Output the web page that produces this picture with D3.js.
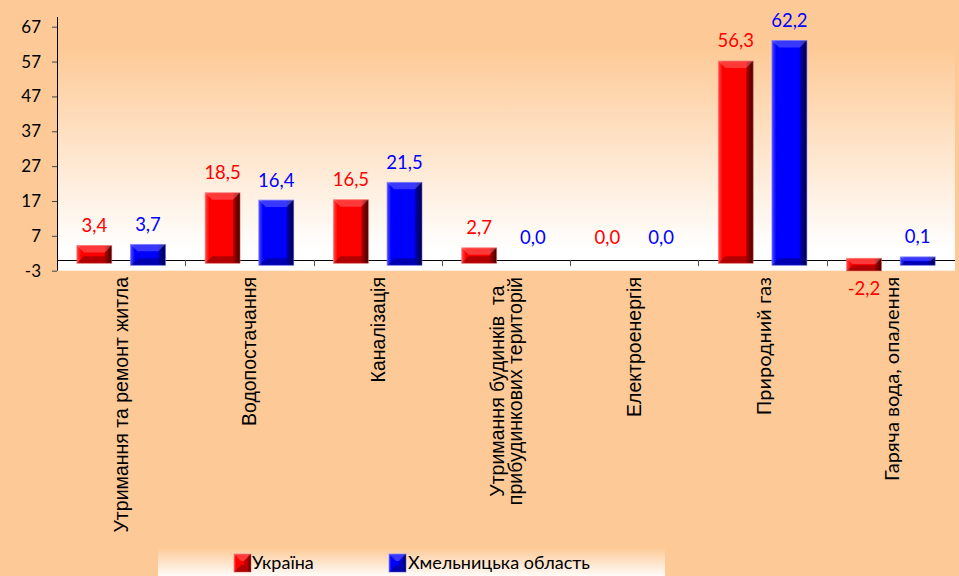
<!DOCTYPE html>
<html><head><meta charset="utf-8">
<script src="https://cdn.jsdelivr.net/npm/d3@7"></script>
<style>
html,body{margin:0;padding:0;background:#fdca97;}
svg{display:block;}
text{white-space:pre;}
</style></head>
<body>
<svg id="chart" width="959" height="576"></svg>
<script>
const categories = [
  ["Утримання та ремонт житла"],
  ["Водопостачання"],
  ["Каналізація"],
  ["Утримання будинків  та", "прибудинкових територій"],
  ["Електроенергія"],
  ["Природний газ"],
  ["Гаряча вода, опалення"]
];
const seriesNames = ["Україна", "Хмельницька область"];
const ukraine = [3.4, 18.5, 16.5, 2.7, 0.0, 56.3, -2.2];
const khmelnytska = [3.7, 16.4, 21.5, 0.0, 0.0, 62.2, 0.1];
const yTicks = [-3, 7, 17, 27, 37, 47, 57, 67];

const bg = "#fdca97";
const svg = d3.select("#chart");
const defs = svg.append("defs");

const pg = defs.append("linearGradient").attr("id","plotGrad").attr("x1",0).attr("y1",0).attr("x2",0).attr("y2",1);
pg.append("stop").attr("offset","0%").attr("stop-color",bg);
pg.append("stop").attr("offset","15%").attr("stop-color",bg);
pg.append("stop").attr("offset","92%").attr("stop-color","#ffffff");
pg.append("stop").attr("offset","100%").attr("stop-color","#ffffff");

const lg = defs.append("linearGradient").attr("id","legGrad").attr("x1",0).attr("y1",0).attr("x2",0).attr("y2",1);
lg.append("stop").attr("offset","0%").attr("stop-color",bg);
lg.append("stop").attr("offset","100%").attr("stop-color","#ffffff");

const palettes = [
  {main:"#ff0000", light:"#ff4a4a", dark:"#5a0000", text:"#ff0000", stroke:"#ff7070"},
  {main:"#0000ff", light:"#4a4aff", dark:"#00005a", text:"#0000ff", stroke:"#7070ff"}
];
palettes.forEach((p,i)=>{
  const g = defs.append("linearGradient").attr("id","barGrad"+i).attr("x1",0).attr("y1",0).attr("x2",1).attr("y2",0);
  g.append("stop").attr("offset","0%").attr("stop-color",p.light);
  g.append("stop").attr("offset","12%").attr("stop-color",p.main);
  g.append("stop").attr("offset","78%").attr("stop-color",p.main);
  g.append("stop").attr("offset","100%").attr("stop-color",p.dark);
});

const left = 57, right = 955;
const y = d3.scaleLinear().domain([-3, 67]).range([270.7, 26.7]);
const x = d3.scaleBand().domain(d3.range(categories.length)).range([left, right]);
const xs = d3.scaleBand().domain([0,1]).range([0, x.bandwidth()]).paddingInner(0.35).paddingOuter(0.37);

svg.append("rect").attr("x",left).attr("y",10).attr("width",right-left).attr("height",y(-3)-10)
  .attr("fill","url(#plotGrad)");

const yAxis = d3.axisLeft(y).tickValues(yTicks).tickSize(5).tickPadding(11).tickFormat(d3.format("d"));
const ya = svg.append("g").attr("transform",`translate(${left},0)`).call(yAxis);
ya.select(".domain").remove();
ya.selectAll(".tick line").attr("stroke","#444");
ya.selectAll(".tick text").attr("font-family","Lato, 'Open Sans', sans-serif").attr("font-size",17).attr("fill","#000")
  .text(d => String(d).replace("−","-"));
svg.append("line").attr("x1",left+0.5).attr("x2",left+0.5).attr("y1",17).attr("y2",y(-3)).attr("stroke","#000").attr("stroke-width",1);

svg.append("line").attr("x1",left).attr("x2",right).attr("y1",Math.round(y(0))+0.5).attr("y2",Math.round(y(0))+0.5)
  .attr("stroke","#000").attr("stroke-width",1);
const boundaries = d3.range(1, categories.length).map(i => x(i));
svg.selectAll(".xt").data(boundaries).enter().append("line")
  .attr("x1",d=>Math.round(d)+0.5).attr("x2",d=>Math.round(d)+0.5)
  .attr("y1",y(0)).attr("y2",y(0)+6).attr("stroke","#555");

const allSeries = [ukraine, khmelnytska];
function drawBevelBar(g, bx, top, bw, h, i){
  const p = palettes[i];
  g.append("rect").attr("x",bx).attr("y",top).attr("width",bw).attr("height",h)
    .attr("fill",`url(#barGrad${i})`).attr("stroke",p.stroke).attr("stroke-width",0.8).attr("stroke-opacity",0.8);
  const ins = Math.min(7, h/2.2);
  g.append("polygon").attr("points",[[bx,top],[bx+bw,top],[bx+bw-ins,top+ins],[bx+ins,top+ins]].join(" "))
    .attr("fill","#ffffff").attr("fill-opacity",0.22);
  g.append("polygon").attr("points",[[bx,top+h],[bx+bw,top+h],[bx+bw-ins,top+h-ins],[bx+ins,top+h-ins]].join(" "))
    .attr("fill","#000000").attr("fill-opacity",0.3);
  g.append("polygon").attr("points",[[bx+bw,top],[bx+bw,top+h],[bx+bw-ins,top+h-ins],[bx+bw-ins,top+ins]].join(" "))
    .attr("fill","#000000").attr("fill-opacity",0.25);
}

const barsG = svg.append("g");
allSeries.forEach((vals, si) => {
  vals.forEach((v, ci) => {
    const bx = x(ci) + xs(si);
    const bw = xs.bandwidth();
    if (v !== 0) {
      let top, bottom;
      if (v > 0) { top = y(v) - 3; bottom = y(0) + (si === 0 ? 3 : 5); }
      else { top = y(0) - 2; bottom = y(v) + 3; }
      drawBevelBar(barsG, bx, top, bw, bottom - top, si);
    }
    const ly = v >= 0 ? y(v) - 23 : y(v) + 21;
    svg.append("text").attr("x", bx + bw/2).attr("y", ly + 6.5)
      .attr("text-anchor","middle").attr("font-family","Lato, 'Open Sans', sans-serif")
      .attr("font-size",18.5).attr("fill",palettes[si].text)
      .text(d3.format(".1f")(v).replace(".", ",").replace("−","-"));
  });
});

const labelTop = 277;
categories.forEach((lines, ci) => {
  const cx = x(ci) + x.bandwidth()/2;
  const fam = ci >= 5 ? "Lato, 'Open Sans', sans-serif" : "'Liberation Sans', Arial, sans-serif";
  const fs = ci >= 5 ? 20 : 19.5;
  const n = lines.length;
  const lh = 18;
  const g = svg.append("g");
  const texts = lines.map((ln, li) => {
    const off = (li - (n-1)/2) * lh;
    return g.append("text").attr("font-family",fam).attr("font-size",fs).attr("fill","#000")
      .attr("dominant-baseline","central").attr("text-anchor","middle").text(ln).datum(off);
  });
  const maxLen = d3.max(texts, t => t.node().getComputedTextLength());
  texts.forEach(t => {
    const off = t.datum();
    const centerY = labelTop + maxLen/2;
    t.attr("transform", `translate(${cx + off},${centerY}) rotate(-90)`);
  });
});

svg.append("rect").attr("x",158).attr("y",548).attr("width",507).attr("height",30).attr("fill","url(#legGrad)");
const legItems = [{x:234, tx:252}, {x:389, tx:408}];
legItems.forEach((it, i) => {
  drawBevelBar(svg.append("g"), it.x, 554, 17, 18, i);
  svg.append("text").attr("x",it.tx).attr("y",569).attr("font-family","Lato, 'Open Sans', sans-serif")
    .attr("font-size",18).attr("fill","#000").text(seriesNames[i]);
});
</script>
</body></html>
